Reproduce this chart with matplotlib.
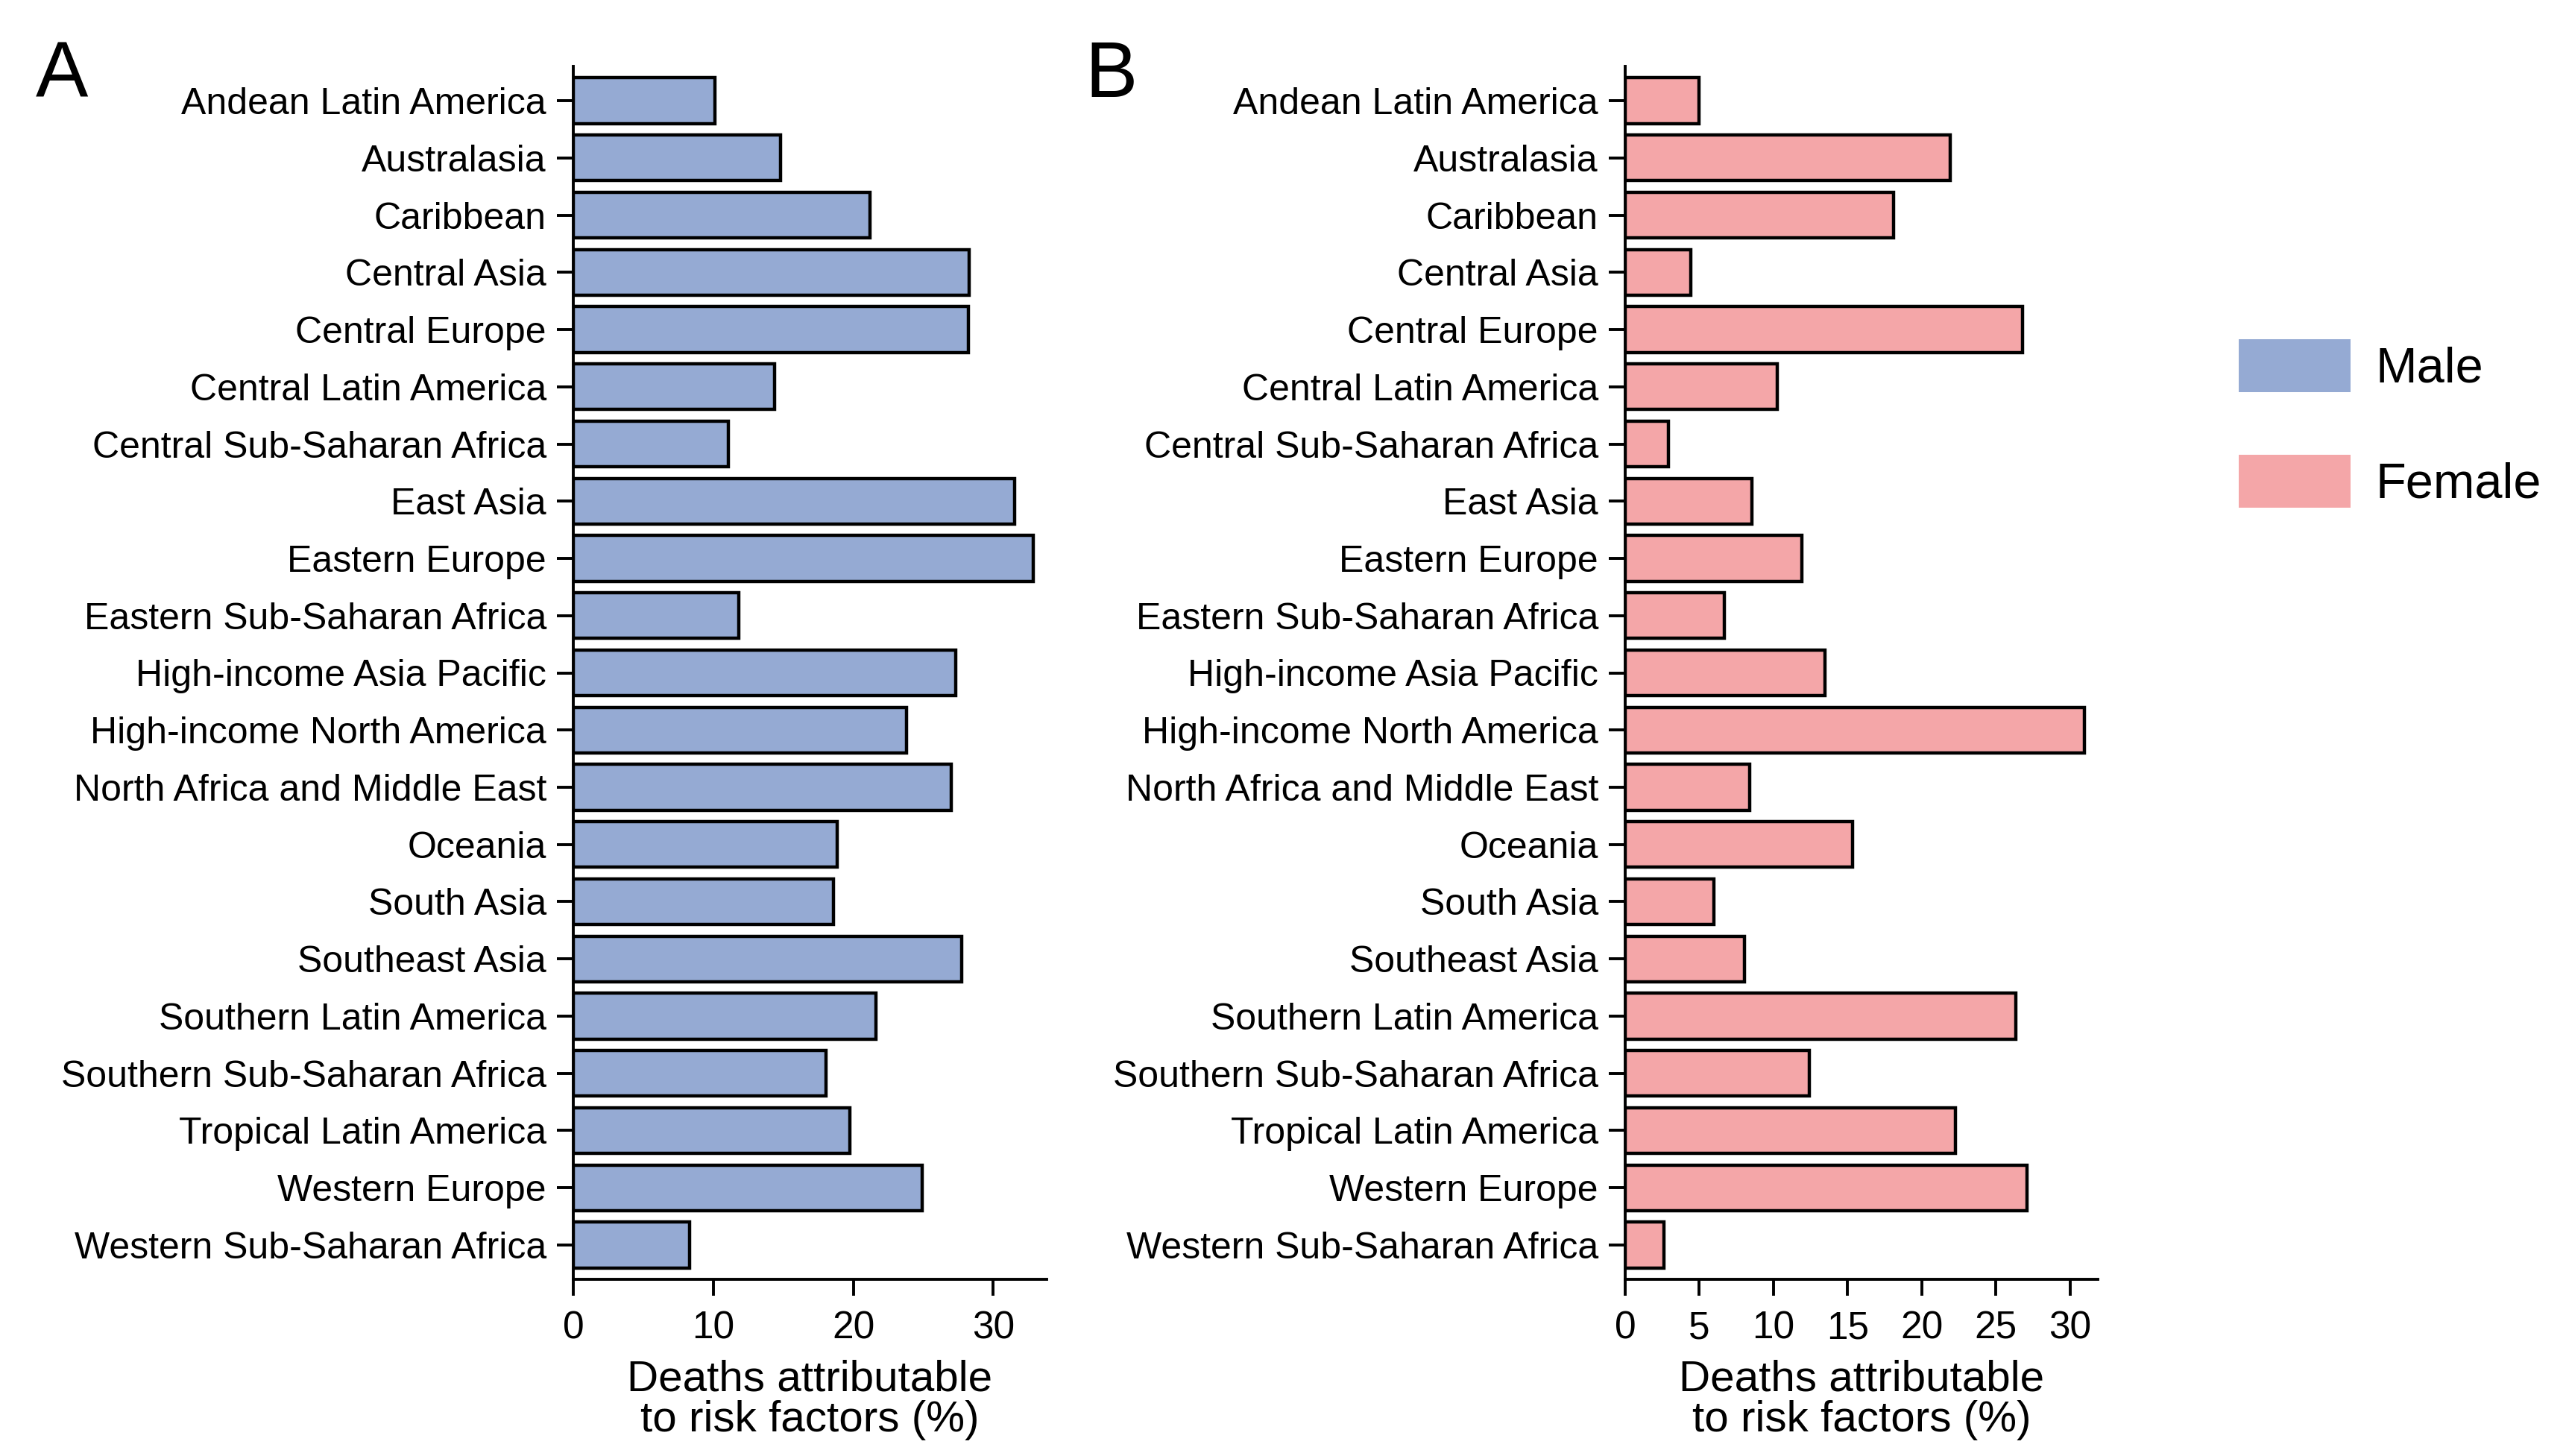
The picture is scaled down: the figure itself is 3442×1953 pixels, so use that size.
import matplotlib
matplotlib.use("Agg")
import matplotlib.pyplot as plt
from matplotlib.patches import Patch

plt.rcParams['font.family'] = ['Liberation Sans', 'DejaVu Sans']

regions = ["Andean Latin America", "Australasia", "Caribbean", "Central Asia",
           "Central Europe", "Central Latin America", "Central Sub-Saharan Africa",
           "East Asia", "Eastern Europe", "Eastern Sub-Saharan Africa",
           "High-income Asia Pacific", "High-income North America",
           "North Africa and Middle East", "Oceania", "South Asia", "Southeast Asia",
           "Southern Latin America", "Southern Sub-Saharan Africa",
           "Tropical Latin America", "Western Europe", "Western Sub-Saharan Africa"]

male = [10.1, 14.8, 21.2, 28.3, 28.25, 14.4, 11.1, 31.55, 32.83, 11.8, 27.3,
        23.8, 27.0, 18.85, 18.6, 27.75, 21.6, 18.05, 19.75, 24.9, 8.3]
female = [5.0, 21.9, 18.1, 4.4, 26.8, 10.25, 2.9, 8.55, 11.9, 6.7, 13.5,
          30.95, 8.4, 15.35, 6.0, 8.05, 26.35, 12.4, 22.25, 27.1, 2.6]

male_ticks = [0, 10, 20, 30]
female_ticks = [0, 5, 10, 15, 20, 25, 30]

male_color = "#95AAD3"
female_color = "#F4A6A8"

W, H, DPI = 3442, 1953, 200
fig = plt.figure(figsize=(W / DPI, H / DPI), dpi=DPI)

bottom = 1 - 1716 / H
top = 1 - 89 / H
axA = fig.add_axes([769 / W, bottom, (1404 - 769) / W, top - bottom])
axB = fig.add_axes([2180 / W, bottom, (2814 - 2180) / W, top - bottom])

def draw(ax, vals, color, ticks):
    y = list(range(len(regions)))
    ax.barh(y, vals, height=0.8, color=color, edgecolor="black", linewidth=1.6)
    ax.set_yticks(y)
    ax.set_yticklabels(regions, fontsize=18)
    ax.set_ylim(len(regions) - 0.4, -0.6)
    ax.set_xlim(0, max(vals) * 1.03)
    ax.set_xticks(ticks)
    ax.set_xticklabels([str(t) for t in ticks], fontsize=18.5)
    for s in ["top", "right"]:
        ax.spines[s].set_visible(False)
    for s in ["left", "bottom"]:
        ax.spines[s].set_linewidth(1.4)
    ax.tick_params(axis="y", length=8, width=1.4, pad=5)
    ax.tick_params(axis="x", length=8, width=1.4, pad=7)
    ax.set_xlabel("Deaths attributable\nto risk factors (%)", fontsize=21,
                  linespacing=1.02, labelpad=6)

draw(axA, male, male_color, male_ticks)
draw(axB, female, female_color, female_ticks)

fig.text(48 / W, 1 - 53 / H, "A", fontsize=38, va="top", ha="left")
fig.text(1455 / W, 1 - 53 / H, "B", fontsize=38, va="top", ha="left")

handles = [Patch(facecolor=male_color, edgecolor="none"),
           Patch(facecolor=female_color, edgecolor="none")]
fig.legend(handles, ["Male", "Female"], loc="upper left",
           bbox_to_anchor=(3003 / W, 1 - 455 / H), frameon=False, fontsize=24,
           handlelength=2.25, handleheight=1.25, handletextpad=0.5,
           labelspacing=1.25, borderpad=0, borderaxespad=0)

fig.savefig("out.png", dpi=DPI)
